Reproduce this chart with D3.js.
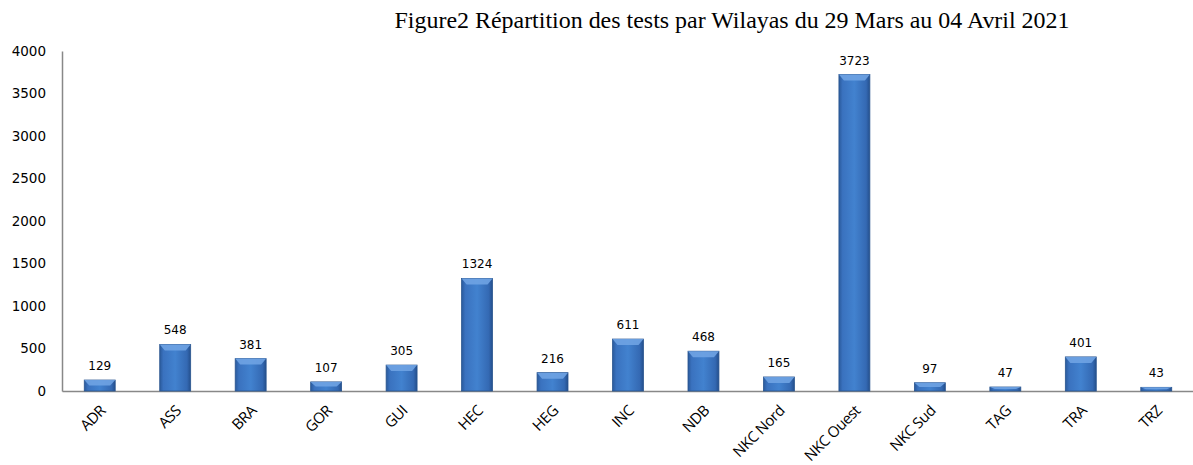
<!DOCTYPE html>
<html lang="fr">
<head>
<meta charset="utf-8">
<script src="https://d3js.org/d3.v7.min.js"></script>
<style>
  body { margin: 0; background: #fff; }
</style>
</head>
<body>
<script>
    var width = 1193;
    var height = 465;

    // data
    var wilayas = ["ADR", "ASS", "BRA", "GOR", "GUI", "HEC", "HEG", "INC", "NDB",
                   "NKC Nord", "NKC Ouest", "NKC Sud", "TAG", "TRA", "TRZ"];
    var tests = [129, 548, 381, 107, 305, 1324, 216, 611, 468, 165, 3723, 97, 47, 401, 43];
    var yTicks = [0, 500, 1000, 1500, 2000, 2500, 3000, 3500, 4000];

    var margin = {left: 62, right: -1, top: 51, bottom: 74};

    var svg = d3.select("body")
                .append("svg")
                .attr("width", width)
                .attr("height", height);

    // bar gradient, dark edges and a lighter middle
    var defs = svg.append("defs");
    var grad = defs.append("linearGradient").attr("id", "barGrad")
                   .attr("x1", "0").attr("x2", "1").attr("y1", "0").attr("y2", "0");
    grad.append("stop").attr("offset", "0%").attr("stop-color", "#2a5a9c");
    grad.append("stop").attr("offset", "12%").attr("stop-color", "#3a72bf");
    grad.append("stop").attr("offset", "50%").attr("stop-color", "#4282cf");
    grad.append("stop").attr("offset", "88%").attr("stop-color", "#3469b3");
    grad.append("stop").attr("offset", "100%").attr("stop-color", "#244f8c");

    var x = d3.scaleBand()
              .domain(wilayas)
              .range([margin.left, width - margin.right])
              .paddingInner(0.59)
              .paddingOuter(0.295);

    var y = d3.scaleLinear()
              .domain([0, 4000])
              .range([height - margin.bottom, margin.top]);

    // title
    svg.append("text")
       .attr("x", 732)
       .attr("y", 28)
       .attr("text-anchor", "middle")
       .attr("textLength", 675)
       .attr("lengthAdjust", "spacingAndGlyphs")
       .style("font-family", "'Liberation Serif', 'Times New Roman', serif")
       .style("font-size", "23px")
       .style("fill", "#000")
       .text("Figure2 Répartition des tests par Wilayas du 29 Mars au 04 Avril 2021");

    // y axis
    var yAxis = svg.append("g")
       .attr("transform", "translate(" + margin.left + ",0)")
       .call(d3.axisLeft(y).tickValues(yTicks).tickFormat(d3.format("d")).tickSize(0).tickPadding(16));
    yAxis.select(".domain").attr("stroke", "#888").attr("stroke-width", 1.5);
    yAxis.selectAll("text")
       .style("font-family", "'DejaVu Sans', Verdana, sans-serif")
       .style("font-size", "13.5px")
       .style("fill", "#000");

    // x axis
    var xAxis = svg.append("g")
       .attr("transform", "translate(0," + y(0) + ")")
       .call(d3.axisBottom(x).tickSize(0).tickPadding(0));
    xAxis.select(".domain").attr("stroke", "#888").attr("stroke-width", 1.5);
    xAxis.selectAll("text")
       .style("font-family", "'Open Sans', sans-serif")
       .style("font-size", "15px")
       .style("letter-spacing", "-0.5px")
       .style("fill", "#000")
       .attr("text-anchor", "end")
       .attr("y", 0)
       .attr("dy", "0.35em")
       .attr("transform", "translate(3,17) rotate(-45)");

    // bars
    var bars = svg.append("g").selectAll("g")
       .data(wilayas)
       .enter().append("g");

    bars.append("rect")
       .attr("x", function (d) { return x(d); })
       .attr("y", function (d, i) { return y(tests[i]); })
       .attr("width", x.bandwidth())
       .attr("height", function (d, i) { return y(0) - y(tests[i]); })
       .style("fill", "url(#barGrad)")
       .style("stroke", "#2a558f")
       .style("stroke-width", 0.8);

    // top bevel highlight
    bars.append("polygon")
       .attr("points", function (d, i) {
           var x0 = x(d), x1 = x(d) + x.bandwidth(), t = y(tests[i]);
           var h = Math.min(6, (y(0) - t) / 2);
           return [x0, t, x1, t, x1 - 5, t + h, x0 + 5, t + h].join(" ");
       })
       .style("fill", "#6fa3e3")
       .style("opacity", 0.9);

    // value labels
    svg.append("g").selectAll("text")
       .data(wilayas)
       .enter().append("text")
       .attr("x", function (d) { return x(d) + x.bandwidth() / 2; })
       .attr("y", function (d, i) { return y(tests[i]) - 10; })
       .attr("text-anchor", "middle")
       .style("font-family", "'DejaVu Sans', Verdana, sans-serif")
       .style("font-size", "12px")
       .style("fill", "#000")
       .text(function (d, i) { return tests[i]; });
</script>
</body>
</html>
